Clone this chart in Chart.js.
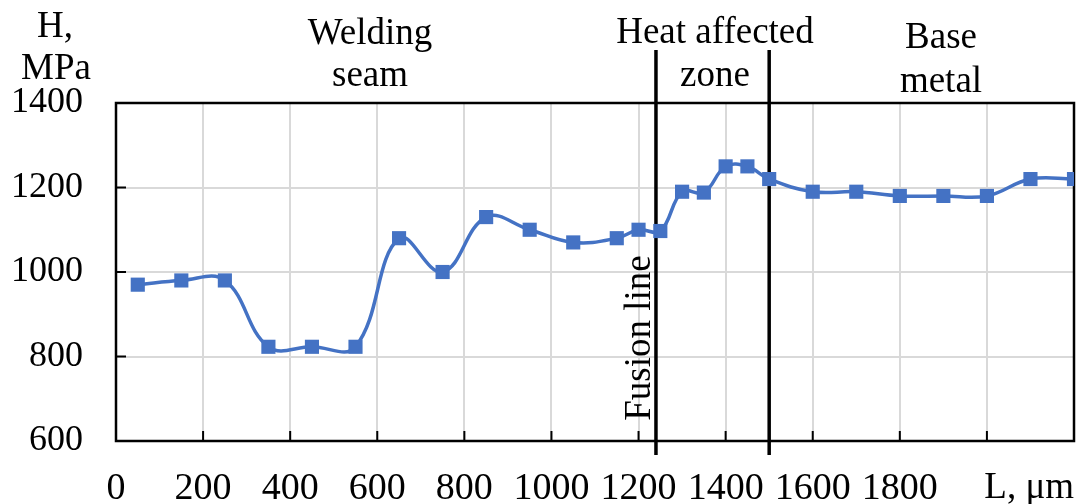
<!DOCTYPE html>
<html>
<head>
<meta charset="utf-8">
<script src="https://cdn.jsdelivr.net/npm/chart.js@4.4.1/dist/chart.umd.min.js"></script>
<style>
    html, body { margin:0; padding:0; background:#fff; }
    #wrap { width:1084px; height:504px; }
</style>
</head>
<body>
<div id="wrap"><canvas id="chartDureza" width="1084" height="504"></canvas></div>
<script>
/* microdureza a lo largo de la unión soldada */

// ── Datos ─────────────────────────────────────────────────────────────────────
const L_UM  = [50, 150, 250, 350, 450, 550, 650, 750, 850, 950, 1050, 1150, 1200, 1250,
               1300, 1350, 1400, 1450, 1500, 1600, 1700, 1800, 1900, 2000, 2100, 2200];
const H_MPA = [970, 980, 980, 823, 823, 823, 1080, 1000, 1130, 1100, 1070, 1080, 1100, 1097,
               1190, 1188, 1250, 1250, 1220, 1190, 1190, 1180, 1180, 1180, 1220, 1220];
const LIMITES   = [1240, 1500];                 // línea de fusión, fin de ZAC
const X_RANGO   = [0, 2200, 200];
const Y_RANGO   = [600, 1400, 200];
const ZONAS     = [['Welding', 'seam'], ['Heat affected', 'zone'], ['Base', 'metal']];
const TIT_Y     = ['H,', 'MPa'];
const TIT_X     = 'L, \u03BCm';
const TIT_LINEA = 'Fusion line';

const azul  = '#4472C4';
const gris  = '#D9D9D9';
const fuente = "'Liberation Serif', 'Times New Roman', serif";

// ── Decoración: marco, marcas interiores, límites y textos ────────────────────
const decor = {
    id: 'decor',
    beforeDatasetsDraw(chart) {
        const {ctx, chartArea: a, scales: {x, y}} = chart;
        ctx.save();
        ctx.strokeStyle = '#000';
        // marcas hacia dentro
        ctx.lineWidth = 2;
        x.ticks.forEach(t => {
            const px = x.getPixelForValue(t.value);
            ctx.beginPath(); ctx.moveTo(px, a.bottom); ctx.lineTo(px, a.bottom - 10); ctx.stroke();
        });
        y.ticks.forEach(t => {
            const py = y.getPixelForValue(t.value);
            ctx.beginPath(); ctx.moveTo(a.left, py); ctx.lineTo(a.left + 10, py); ctx.stroke();
        });
        // marco
        ctx.lineWidth = 2.5;
        ctx.strokeRect(a.left, a.top, a.right - a.left, a.bottom - a.top);
        // límites de zona
        ctx.lineWidth = 3.5;
        LIMITES.forEach(v => {
            const px = x.getPixelForValue(v);
            ctx.beginPath(); ctx.moveTo(px, a.top - 53); ctx.lineTo(px, a.bottom + 14); ctx.stroke();
        });
        ctx.restore();
    },
    afterDraw(chart) {
        const {ctx, chartArea: a, scales: {x}} = chart;
        ctx.save();
        ctx.fillStyle = '#000';
        ctx.font = '37px ' + fuente;
        ctx.textAlign = 'center';
        ctx.textBaseline = 'alphabetic';
        // título eje Y
        ctx.fillText(TIT_Y[0], 55, 37);
        ctx.fillText(TIT_Y[1], 56, 79);
        // zonas
        const cx = [370, 715, 941];
        const by = [[44, 86], [43, 86], [48, 92]];
        ZONAS.forEach((z, i) => {
            ctx.fillText(z[0], cx[i], by[i][0]);
            ctx.fillText(z[1], cx[i], by[i][1]);
        });
        // título eje X
        ctx.textAlign = 'right';
        ctx.fillText(TIT_X, a.right, 498);
        // línea de fusión (vertical)
        ctx.translate(x.getPixelForValue(LIMITES[0]) - 6, 338);
        ctx.rotate(-Math.PI / 2);
        ctx.textAlign = 'center';
        ctx.fillText(TIT_LINEA, 0, 0);
        ctx.restore();
    }
};

// ── Gráfica ───────────────────────────────────────────────────────────────────
new Chart(document.getElementById('chartDureza'), {
    type: 'line',
    data: {
        datasets: [{
            data: L_UM.map((v, i) => ({x: v, y: H_MPA[i]})),
            borderColor: azul, backgroundColor: azul,
            borderWidth: 3.5, tension: 0.4,
            pointStyle: 'rect', pointRadius: 10, pointBorderWidth: 0,
            pointBackgroundColor: azul, fill: false
        }]
    },
    options: {
        responsive: false, animation: false,
        layout: { padding: { top: 103, right: 6, left: 0, bottom: 0 } },
        plugins: { legend: { display: false }, tooltip: { enabled: false } },
        scales: {
            x: {
                type: 'linear', min: X_RANGO[0], max: X_RANGO[1],
                afterFit: s => { s.height = 63; s.paddingLeft = 0; s.paddingRight = 0; },
                grid: { color: gris, lineWidth: 2, drawTicks: false },
                border: { display: false },
                ticks: {
                    stepSize: X_RANGO[2], padding: 25, color: '#000', maxRotation: 0,
                    font: { family: fuente, size: 38 },
                    callback: v => v > 1800 ? '' : String(v)
                }
            },
            y: {
                min: Y_RANGO[0], max: Y_RANGO[1],
                afterFit: s => { s.width = 116; s.paddingTop = 0; s.paddingBottom = 0; },
                grid: { color: gris, lineWidth: 2, drawTicks: false },
                border: { display: false },
                ticks: {
                    stepSize: Y_RANGO[2], padding: 33, color: '#000',
                    font: { family: fuente, size: 36 },
                    callback: v => String(v)
                }
            }
        }
    },
    plugins: [decor]
});
</script>
</body>
</html>
